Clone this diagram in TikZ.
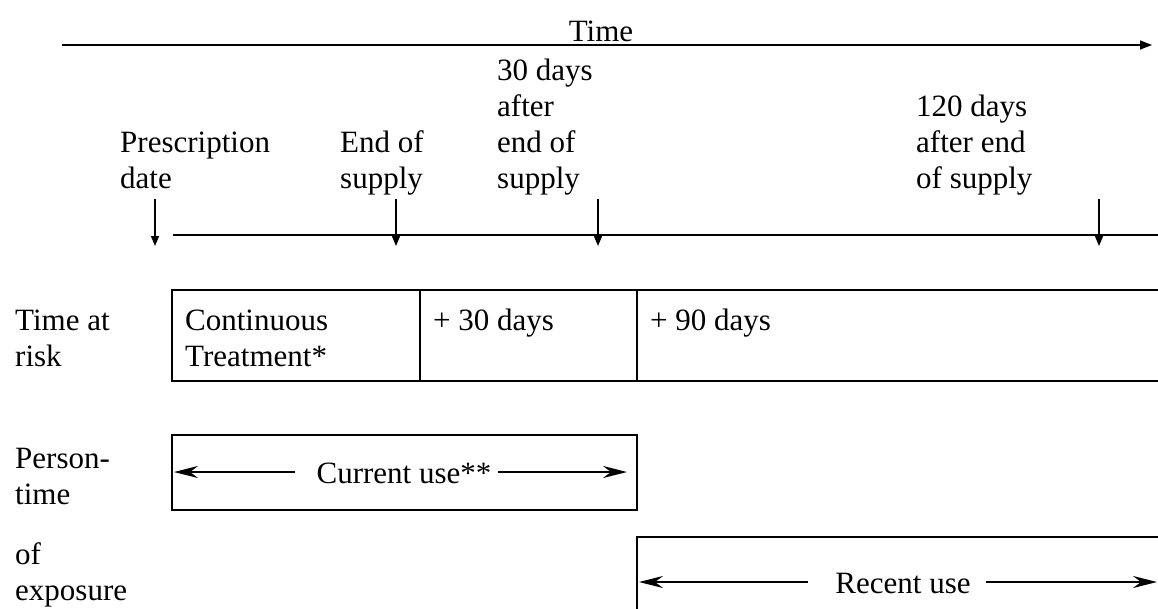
\documentclass[tikz,border=0pt]{standalone}
\usepackage{fontspec}
\setmainfont{Liberation Serif}
\usetikzlibrary{arrows.meta}

\tikzset{
  lbl/.style={anchor=base west, inner sep=0pt, align=left},
  drop/.style={-{Triangle[length=10pt,width=8pt]}, line width=1.3pt},
  usearrow/.style={-{Stealth[length=24pt,width=12pt,inset=8pt]}, line width=1.8pt},
  box/.style={line width=2pt}
}

\begin{document}
\begin{tikzpicture}[x=1pt, y=-1pt, font=\fontsize{31}{36}\selectfont]
\useasboundingbox (0,0) rectangle (1158,608);

% time axis
\coordinate (t0) at (62,45);
\coordinate (t1) at (1152,45);
\draw[-{Triangle[length=12pt,width=9pt]}, line width=1.5pt] (t0) -- (t1);
\node[anchor=base, inner sep=0pt] (time) at (601,41) {Time};

% events (base = last line)
\node[lbl] (rx)   at (120,188) {Prescription\\date};
\node[lbl] (eos)  at (340,188) {End of\\supply};
\node[lbl] (e30)  at (497,188) {30 days\\after\\end of\\supply};
\node[lbl] (e120) at (916,188) {120 days\\after end\\of supply};
\foreach \x in {155,396,598,1099}{
\draw[drop] (\x,199) -- (\x,246);
}
\draw[line width=2.8pt] (173,235) -- (1160,235);

% time at risk
\node[lbl] (risk) at (15,366) {Time at\\risk};
\draw[box] (1170,290) -- (172,290) -- (172,381) -- (1170,381);
\draw[box] (420,290) -- (420,381);
\draw[box] (637,290) -- (637,381);
\node[lbl] (cont) at (185,366) {Continuous\\Treatment*};
\node[lbl] (p30)  at (433,330) {+ 30 days};
\node[lbl] (p90)  at (650,330) {+ 90 days};

% person-time of exposure
\node[lbl] (pt)  at (15,504) {Person-\\time};
\node[lbl] (exp) at (15,600) {of\\exposure};

\draw[box] (172,435) rectangle (637,510);
\node[anchor=base, inner sep=0pt] (cur) at (404,483) {Current use**};
\coordinate (curL) at (174,472);
\coordinate (curR) at (627,472);
\draw[usearrow] (295,472) -- (curL);
\draw[usearrow] (498,472) -- (curR);

\draw[box] (1170,537) -- (637,537) -- (637,620);
\node[anchor=base, inner sep=0pt] (rec) at (903,593) {Recent use};
\coordinate (recL) at (639,582);
\coordinate (recR) at (1157,582);
\draw[usearrow] (808,582) -- (recL);
\draw[usearrow] (986,582) -- (recR);
\end{tikzpicture}
\end{document}
